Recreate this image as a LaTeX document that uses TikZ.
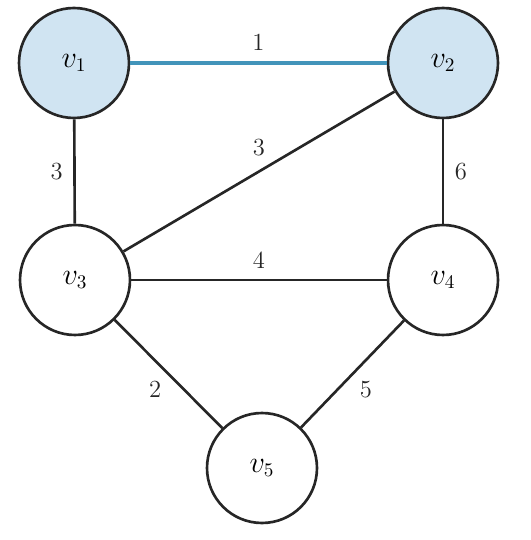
\documentclass[tikz,border=0pt]{standalone}
\usepackage{amsmath}
\usepackage[usenames,dvipsnames]{xcolor}
\usepackage{tikz}
\usetikzlibrary{arrows, positioning}
\definecolor{vtxblue}{RGB}{208,228,242}
\definecolor{edgeblue}{RGB}{66,148,186}

\begin{document}
\begin{tikzpicture}[x=0.02cm,y=-0.02cm]
 \tikzstyle{vertex}=[circle,draw=black!85,line width=1.5pt,
   minimum size=2.2cm,inner sep=0pt,font=\fontsize{16}{18}\selectfont]
 \tikzstyle{wedge}=[line width=1.5pt,draw=black!85]
 \tikzstyle{wlabel}=[font=\fontsize{14}{16}\selectfont,text=black!85,inner sep=2pt]
 \useasboundingbox (0,0) rectangle (530,540);
 \node (v1) [vertex,fill=vtxblue] at (74,63) {\(v_1\)};
 \node (v2) [vertex,fill=vtxblue] at (443,63) {\(v_2\)};
 \node (v3) [vertex] at (75,280) {\(v_3\)};
 \node (v4) [vertex] at (443,280) {\(v_4\)};
 \node (v5) [vertex] at (262,468) {\(v_5\)};
 \draw[line width=2.5pt,edgeblue] (v1) -- node[wlabel,above=4pt] {1} (v2);
 \draw[wedge] (v1) -- node[wlabel,left=4pt] {3} (v3);
 \draw[wedge] (v3) -- node[wlabel,above=6pt] {3} (v2);
 \draw[wedge] (v2) -- node[wlabel,right=4pt] {6} (v4);
 \draw[wedge] (v3) -- node[wlabel,above=4pt] {4} (v4);
 \draw[wedge] (v3) -- node[wlabel,below left=2pt] {2} (v5);
 \draw[wedge] (v4) -- node[wlabel,below right=2pt] {5} (v5);
\end{tikzpicture}
\end{document}
